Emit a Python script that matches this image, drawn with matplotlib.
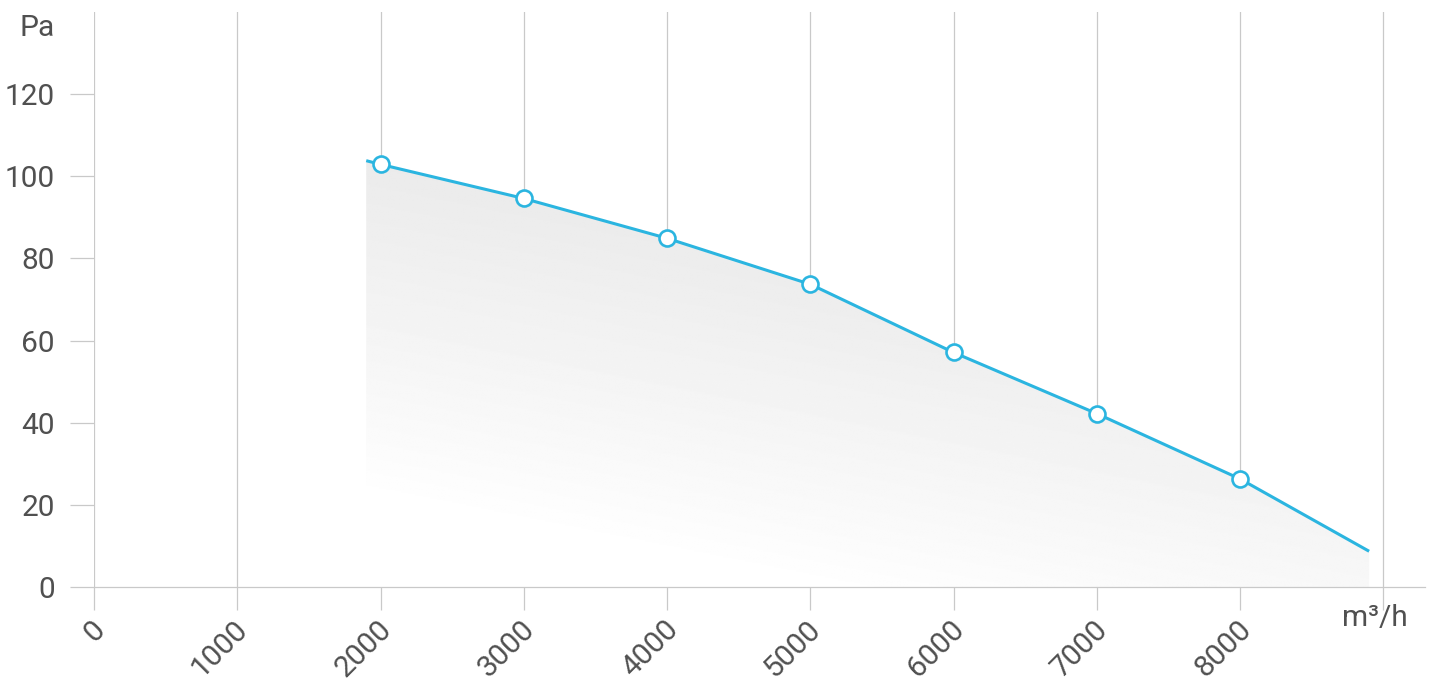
import numpy as np
import matplotlib.pyplot as plt
from matplotlib.transforms import ScaledTranslation
from matplotlib.patches import Polygon

# ── data ──
flow_curve = [1900, 2000, 3000, 4000, 5000, 6000, 7000, 8000, 8900]
pres_curve = [103.8, 102.9, 94.6, 84.9, 73.7, 57.1, 42.2, 26.3, 8.7]
flow_pts = [2000, 3000, 4000, 5000, 6000, 7000, 8000]
pres_pts = [102.9, 94.6, 84.9, 73.7, 57.1, 42.2, 26.3]
x_ticks = [0, 1000, 2000, 3000, 4000, 5000, 6000, 7000, 8000]
y_ticks = [0, 20, 40, 60, 80, 100, 120]

LINE = '#2bb5e0'
TXT = '#505050'
GRID = '#c9c9c9'
FS = 21.5

plt.rcParams['font.family'] = ['Roboto', 'DejaVu Sans']

fig = plt.figure(figsize=(14.32, 6.89), dpi=100)
ax = fig.add_axes([94/1432, 1 - 587/689, (1425 - 94)/1432, (587 - 12)/689])
ax.set_xlim(0, 9290)
ax.set_ylim(0, 140)

for s in ['top', 'right', 'left']:
    ax.spines[s].set_visible(False)
ax.spines['bottom'].set_color(GRID)
ax.spines['bottom'].set_linewidth(0.9)

# vertical grid (incl. 9000 line)
ax.set_xticks(x_ticks + [9000])
ax.set_xticklabels([str(v) for v in x_ticks] + [''])
ax.set_axisbelow(True)
ax.tick_params(axis='x', length=16.5, width=0.9, color=GRID, pad=11,
               labelsize=FS, labelcolor=TXT)
ax.tick_params(axis='y', length=17, width=0.9, color=GRID, pad=11,
               labelsize=FS, labelcolor=TXT)
ax.set_yticks(y_ticks)

off = ScaledTranslation(6.5/100, 0, fig.dpi_scale_trans)
for lab in ax.get_xticklabels():
    lab.set_rotation(45)
    lab.set_ha('right')
    lab.set_va('center')
    lab.set_rotation_mode('anchor')
    lab.set_transform(lab.get_transform() + off)

ax.text(9000, -4.2, 'm³/h', ha='center', va='top', fontsize=FS, color=TXT,
        transform=ax.transData + ScaledTranslation(-9/100, 0, fig.dpi_scale_trans),
        clip_on=False)
ax.text(-0.0293, 136.0, 'Pa', ha='right', va='center', fontsize=FS, color=TXT,
        transform=ax.get_yaxis_transform(), clip_on=False)

# gradient fill under curve
xs = np.linspace(0, 9290, 600)
ys = np.linspace(0, 140, 400)
X, Y = np.meshgrid(xs, ys)
s = np.clip((Y - 22 + 0.007 * (X - 1900)) / 92, 0, 1)
shade = 1 - 0.088 * s ** 0.9
img = ax.imshow(shade, extent=[0, 9290, 0, 140], origin='lower', cmap='gray',
                vmin=0, vmax=1, aspect='auto', zorder=1, interpolation='bilinear')
poly = Polygon(list(zip(flow_curve, pres_curve)) + [(flow_curve[-1], 0), (flow_curve[0], 0)],
               closed=True, transform=ax.transData, facecolor='none', edgecolor='none')
ax.add_patch(poly)
img.set_clip_path(poly)

ax.xaxis.grid(True, color=GRID, lw=0.9, zorder=2)
ax.plot(flow_curve, pres_curve, color=LINE, lw=2.2, zorder=4, solid_capstyle='butt')
ax.plot(flow_pts, pres_pts, ls='none', marker='o', ms=11.5, mfc='white',
        mec=LINE, mew=1.9, zorder=5)

fig.savefig('out.png', dpi=100)
